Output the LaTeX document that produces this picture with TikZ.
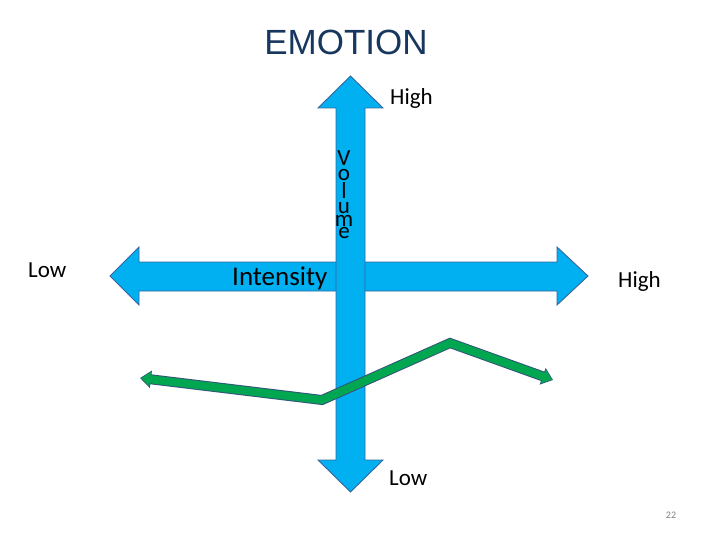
\documentclass[tikz,border=0pt]{standalone}
\usepackage{fontspec}
\setmainfont{Carlito}
\newfontfamily\titlefont{Liberation Sans}
\usetikzlibrary{arrows.meta}
\definecolor{arrowblue}{HTML}{00B0F0}
\definecolor{arrowedge}{HTML}{3A64A0}
\definecolor{linegreen}{HTML}{00A650}
\definecolor{lineedge}{HTML}{33557A}
\definecolor{titlenavy}{HTML}{17375E}
\tikzset{
  bigarrow/.style={fill=arrowblue, draw=arrowedge, line width=0.9pt, line join=miter},
  lbl/.style={inner sep=0pt, anchor=base west, font=\fontsize{23}{23}\selectfont},
  vol/.style={inner sep=0pt, anchor=base, text height=9pt, text depth=0pt, font=\fontsize{23}{23}\selectfont},
}
\begin{document}
\begin{tikzpicture}[x=1pt,y=-1pt]
\useasboundingbox (0,0) rectangle (720,540);
% title
\node[inner sep=0pt, text=titlenavy, font=\titlefont\fontsize{35}{35}\selectfont] (title) at (346,42) {EMOTION};
% horizontal arrow (intensity)
\draw[bigarrow] (110,276) -- (139,247) -- (139,262) -- (557,262) -- (557,247) -- (588,276)
  -- (557,305) -- (557,291) -- (139,291) -- (139,305) -- cycle;
\node[lbl, font=\fontsize{27}{27}\selectfont] (intensity) at (232,285) {Intensity};
% vertical arrow (volume)
\draw[bigarrow] (350.5,76) -- (383,108) -- (365,108) -- (365,460) -- (383,460) -- (350.5,492)
  -- (318,460) -- (336,460) -- (336,108) -- (318,108) -- cycle;
\node[vol] (v1) at (344,166) {V};
\node[vol] (v2) at (344,181) {o};
\node[vol] (v3) at (344,199) {l};
\node[vol] (v4) at (344,214) {u};
\node[vol] (v5) at (344,226) {m};
\node[vol] (v6) at (344,238.5) {e};
% green line
\coordinate (g1) at (140,378);
\coordinate (g2) at (322,400);
\coordinate (g3) at (450,343);
\coordinate (g4) at (553,380);
\draw[lineedge, line width=10pt, line join=miter,
  {Triangle[length=11pt,width=17pt]}-{Triangle[length=11pt,width=17pt]}]
  (g1) -- (g2) -- (g3) -- (g4);
\draw[linegreen, line width=8pt, line join=miter, shorten <=1.2pt, shorten >=1.2pt,
  {Triangle[length=9pt,width=14pt]}-{Triangle[length=9pt,width=14pt]}]
  (g1) -- (g2) -- (g3) -- (g4);
% labels
\node[lbl] (hightop) at (390,105) {High};
\node[lbl] (lowleft) at (28,277) {Low};
\node[lbl] (highright) at (618,287) {High};
\node[lbl] (lowbottom) at (389,485) {Low};
\node[inner sep=0pt, text=gray, font=\fontsize{10}{10}\selectfont] (pagenum) at (671,515) {22};
\end{tikzpicture}
\end{document}
